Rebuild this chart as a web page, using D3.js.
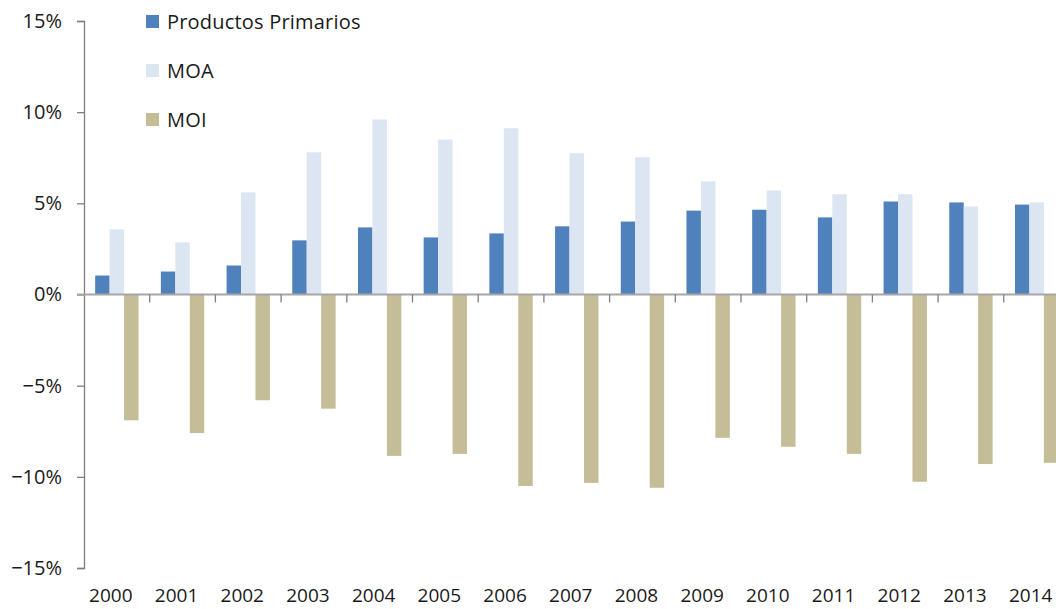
<!DOCTYPE html>
<html>
<head>
<meta charset="utf-8">
<script src="https://cdn.jsdelivr.net/npm/d3@7"></script>
<style>
  body { margin: 0; background: #fff; }
  #chart { width: 1056px; height: 609px; overflow: hidden; }
  text { font-family: "Open Sans", sans-serif; fill: #1a1a1a; }
</style>
</head>
<body>
<div id="chart"></div>
<script>
// data (percent)
const years = ["2000","2001","2002","2003","2004","2005","2006","2007","2008","2009","2010","2011","2012","2013","2014"];
const series = ["Productos Primarios", "MOA", "MOI"];
const primarios = [1.04, 1.26, 1.59, 2.97, 3.68, 3.13, 3.35, 3.74, 4.0, 4.6, 4.65, 4.23, 5.1, 5.05, 4.93];
const moa = [3.57, 2.86, 5.6, 7.8, 9.6, 8.5, 9.12, 7.75, 7.53, 6.2, 5.7, 5.5, 5.5, 4.83, 5.05];
const moi = [-6.9, -7.6, -5.8, -6.26, -8.85, -8.74, -10.5, -10.33, -10.6, -7.86, -8.35, -8.74, -10.27, -9.3, -9.23];
const yTicks = [-15, -10, -5, 0, 5, 10, 15];
const colors = ["#4f81bd", "#dce6f2", "#c4bd97"];

const width = document.querySelector("#chart").clientWidth;
const height = document.querySelector("#chart").clientHeight;

const svg = d3.select("#chart")
    .append("svg")
    .attr("width", width)
    .attr("height", height);

const margin = {top: 21, left: 84, bottom: 41};

// plot runs a bit past the right edge, the last bar gets cut like the original
const xScale = d3.scaleBand()
    .domain(years)
    .range([margin.left, margin.left + 15 * 65.7])
    .paddingInner(0.34)
    .paddingOuter(0.17);

const xSub = d3.scaleBand()
    .domain(series)
    .range([0, xScale.bandwidth()]);

const yScale = d3.scaleLinear()
    .domain([-15, 15])
    .range([height - margin.bottom, margin.top]);

// bars
const table = years.map(function(y, i) {
    return {year: y, values: [primarios[i], moa[i], moi[i]]};
});

const groups = svg.selectAll("g.year")
    .data(table)
    .enter()
    .append("g")
    .attr("class", "year")
    .attr("transform", d => `translate(${xScale(d.year)},0)`);

groups.selectAll("rect")
    .data(d => d.values.map((v, j) => ({key: series[j], v: v, c: colors[j]})))
    .enter()
    .append("rect")
    .attr("x", d => xSub(d.key))
    .attr("width", xSub.bandwidth())
    .attr("y", d => yScale(Math.max(0, d.v)))
    .attr("height", d => Math.abs(yScale(d.v) - yScale(0)))
    .attr("fill", d => d.c);

// y axis
const yAxis = svg.append("g")
    .attr("transform", `translate(${margin.left},0)`)
    .call(d3.axisLeft(yScale)
        .tickValues(yTicks)
        .tickSize(7)
        .tickPadding(15)
        .tickFormat(d => (d < 0 ? "\u2212" + Math.abs(d) : d) + "%"));
yAxis.select(".domain").attr("stroke", "#7f7f7f").attr("stroke-width", 1.3);
yAxis.selectAll(".tick line").attr("stroke", "#7f7f7f").attr("stroke-width", 1.3);
yAxis.selectAll(".tick text")
    .style("font-size", "20px")
    .attr("fill", "#1a1a1a");

// zero line
const step = xScale.step();
svg.append("line")
    .attr("x1", margin.left - 7)
    .attr("x2", width)
    .attr("y1", yScale(0))
    .attr("y2", yScale(0))
    .attr("stroke", "#a6a6a6")
    .attr("stroke-width", 2.2);

// category ticks between years
svg.selectAll("line.cat")
    .data(years.slice(1))
    .enter()
    .append("line")
    .attr("class", "cat")
    .attr("x1", d => xScale(d) - step * 0.17)
    .attr("x2", d => xScale(d) - step * 0.17)
    .attr("y1", yScale(0))
    .attr("y2", yScale(0) + 8)
    .attr("stroke", "#7f7f7f")
    .attr("stroke-width", 1.3);

// year labels
svg.selectAll("text.yr")
    .data(years)
    .enter()
    .append("text")
    .attr("class", "yr")
    .attr("x", d => xScale(d) + xScale.bandwidth() / 2 - 6)
    .attr("y", height - 7)
    .attr("text-anchor", "middle")
    .style("font-size", "19px")
    .text(d => d);

// legend
const legend = svg.selectAll("g.legend")
    .data(series)
    .enter()
    .append("g")
    .attr("class", "legend")
    .attr("transform", (d, i) => `translate(146,${15 + i * 49})`);

legend.append("rect")
    .attr("width", 13)
    .attr("height", 13)
    .attr("fill", (d, i) => colors[i]);

legend.append("text")
    .attr("x", 21)
    .attr("y", 14)
    .style("font-size", "20px")
    .style("letter-spacing", "0.2px")
    .text(d => d);
</script>
</body>
</html>
